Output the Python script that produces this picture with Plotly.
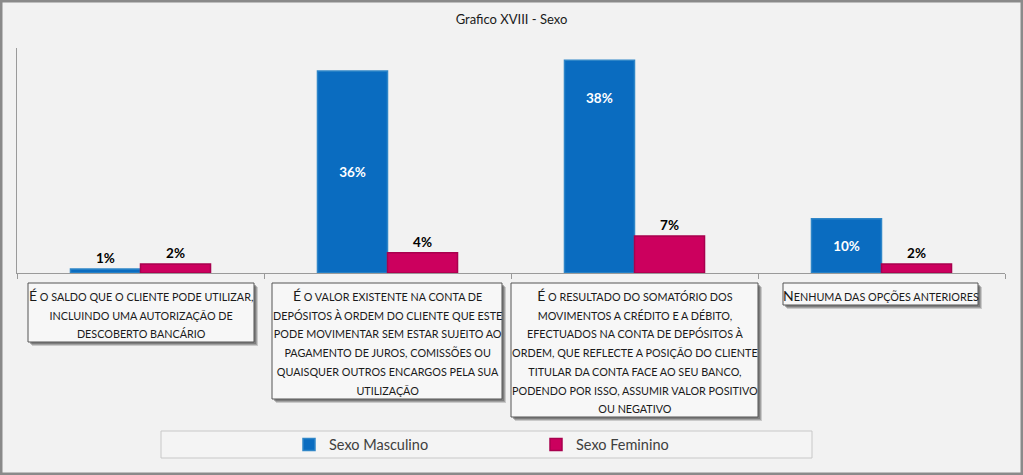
import plotly.graph_objects as go

# ---------------- data ----------------
category_lines = [
    ["É o saldo que o cliente pode utilizar,", "incluindo uma autorização de", "descoberto bancário"],
    ["É o valor existente na conta de", "depósitos à ordem do cliente que este",
     "pode movimentar sem estar sujeito ao", "pagamento de juros, comissões ou",
     "quaisquer outros encargos pela sua", "utilização"],
    ["É o resultado do somatório dos", "movimentos a crédito e a débito,",
     "efectuados na conta de depósitos à", "ordem, que reflecte a posição do cliente",
     "titular da conta face ao seu banco,", "podendo por isso, assumir valor positivo",
     "ou negativo"],
    ["Nenhuma das opções anteriores"],
]
categories = [" ".join(l) for l in category_lines]
series_names = ["Sexo Masculino", "Sexo Feminino"]
masculino = [0.7, 36.1, 38.0, 9.7]
feminino = [1.6, 3.6, 6.6, 1.6]
title_text = "Grafico XVIII - Sexo"

# ---------------- layout helpers ----------------
W, H = 1023, 475
L, R, T, B = 17, 18, 48, 202
PW, PH = W - L - R, H - T - B


def px(x):
    return (x - L) / PW


def py(y):
    return (H - B - y) / PH


FONT = "Lato, 'Open Sans', sans-serif"
BLUE = "#0A6CC0"
PINK = "#CC005E"


def smallcaps(lines):
    out = []
    for i, line in enumerate(lines):
        up = line.upper()
        if i == 0:
            out.append(f"<span style='font-size:14px'>{up[0]}</span>"
                       f"<span style='font-size:10.8px'>{up[1:]}</span>")
        else:
            out.append(f"<span style='font-size:10.8px'>{up}</span>")
    return "<br>".join(out)


def pct(v):
    return f"{v:.0f}%"


# blue labels: first outside, the rest inside (38% placed near top via annotation)
blue_text = [pct(v) for v in masculino]
blue_text[2] = ""
blue_pos = ["outside", "inside", "inside", "inside"]

fig = go.Figure()
fig.add_trace(go.Bar(
    x=categories, y=masculino, name=series_names[0],
    marker=dict(color=BLUE, line=dict(color="#2F86C8", width=1.5)),
    text=blue_text, textposition=blue_pos, insidetextanchor="middle",
    insidetextfont=dict(color="white", size=13.5, family=FONT, weight="bold"),
    outsidetextfont=dict(color="black", size=13.5, family=FONT, weight="bold"),
    textangle=0, cliponaxis=False, hoverinfo="skip",
))
fig.add_trace(go.Bar(
    x=categories, y=feminino, name=series_names[1],
    marker=dict(color=PINK, line=dict(color="#A8004E", width=1.5)),
    text=[pct(v) for v in feminino], textposition="outside",
    outsidetextfont=dict(color="black", size=13.5, family=FONT, weight="bold"),
    textangle=0, cliponaxis=False, hoverinfo="skip",
))

annotations = [dict(
    x=categories[2], y=masculino[2], xref="x", yref="y", xshift=-35, yshift=-38,
    text=pct(masculino[2]), showarrow=False,
    font=dict(color="white", size=13.5, family=FONT, weight="bold"),
)]

# category label boxes (pixel geometry)
boxes = [(28, 283, 254, 342), (272, 283, 502, 399), (511, 283, 758, 417), (783, 283, 978, 305)]
shapes = []
for (x0, y0, x1, y1), lines in zip(boxes, category_lines):
    # shadow
    for off, op in [(4, 0.25), (3, 0.35), (2, 0.45)]:
        shapes.append(dict(type="rect", xref="paper", yref="paper",
                           x0=px(x0 + off), x1=px(x1 + off), y0=py(y0 + off), y1=py(y1 + off),
                           fillcolor="#555555", opacity=op, line=dict(width=0), layer="above"))
    shapes.append(dict(type="rect", xref="paper", yref="paper",
                       x0=px(x0), x1=px(x1), y0=py(y0), y1=py(y1),
                       fillcolor="#F7F7F7", line=dict(color="#555555", width=1), layer="above"))
    annotations.append(dict(
        x=px((x0 + x1) / 2), y=py(y0 + 1.5), xref="paper", yref="paper",
        xanchor="center", yanchor="top", align="center", showarrow=False,
        text=smallcaps(lines), font=dict(family=FONT, size=14.4, color="#1a1a1a"),
    ))

# legend box
shapes.append(dict(type="rect", xref="paper", yref="paper",
                   x0=px(161), x1=px(812), y0=py(431), y1=py(458),
                   fillcolor="#F4F4F4", line=dict(color="#C8C8C8", width=1), layer="below"))
# outer frame
shapes.append(dict(type="rect", xref="paper", yref="paper",
                   x0=px(1), x1=px(W - 1), y0=py(1), y1=py(H - 1),
                   line=dict(color="#8A8A8A", width=3), layer="above"))

fig.update_layout(
    width=W, height=H,
    margin=dict(l=L, r=R, t=T, b=B, pad=0),
    paper_bgcolor="#F2F2F2", plot_bgcolor="#F2F2F2",
    barmode="group", bargap=0.433, bargroupgap=0,
    title=dict(text=title_text, x=0.5, xanchor="center", y=1 - 19 / H, yanchor="middle",
               font=dict(family=FONT, size=13, color="#1a1a1a")),
    xaxis=dict(showticklabels=False, showgrid=False, zeroline=False,
               showline=True, linecolor="#9A9A9A", linewidth=1,
               ticks="outside", tickson="boundaries", ticklen=5, tickcolor="#9A9A9A",
               range=[-0.5, 3.5]),
    yaxis=dict(range=[0, 40.2], showticklabels=False, showgrid=False, zeroline=False,
               showline=True, linecolor="#9A9A9A", linewidth=1, ticks=""),
    showlegend=True,
    legend=dict(orientation="h", x=px(289), xanchor="left", y=py(444.5), yanchor="middle",
                bgcolor="rgba(0,0,0,0)", borderwidth=0,
                entrywidth=202, entrywidthmode="pixels",
                font=dict(family=FONT, size=14.5, color="#404040"),
                itemclick=False, itemdoubleclick=False),
    annotations=annotations,
    shapes=shapes,
    font=dict(family=FONT),
)

fig.write_html("out.html", config={"displayModeBar": False},
               post_script="document.body.style.margin='0';document.body.style.overflow='hidden';")
